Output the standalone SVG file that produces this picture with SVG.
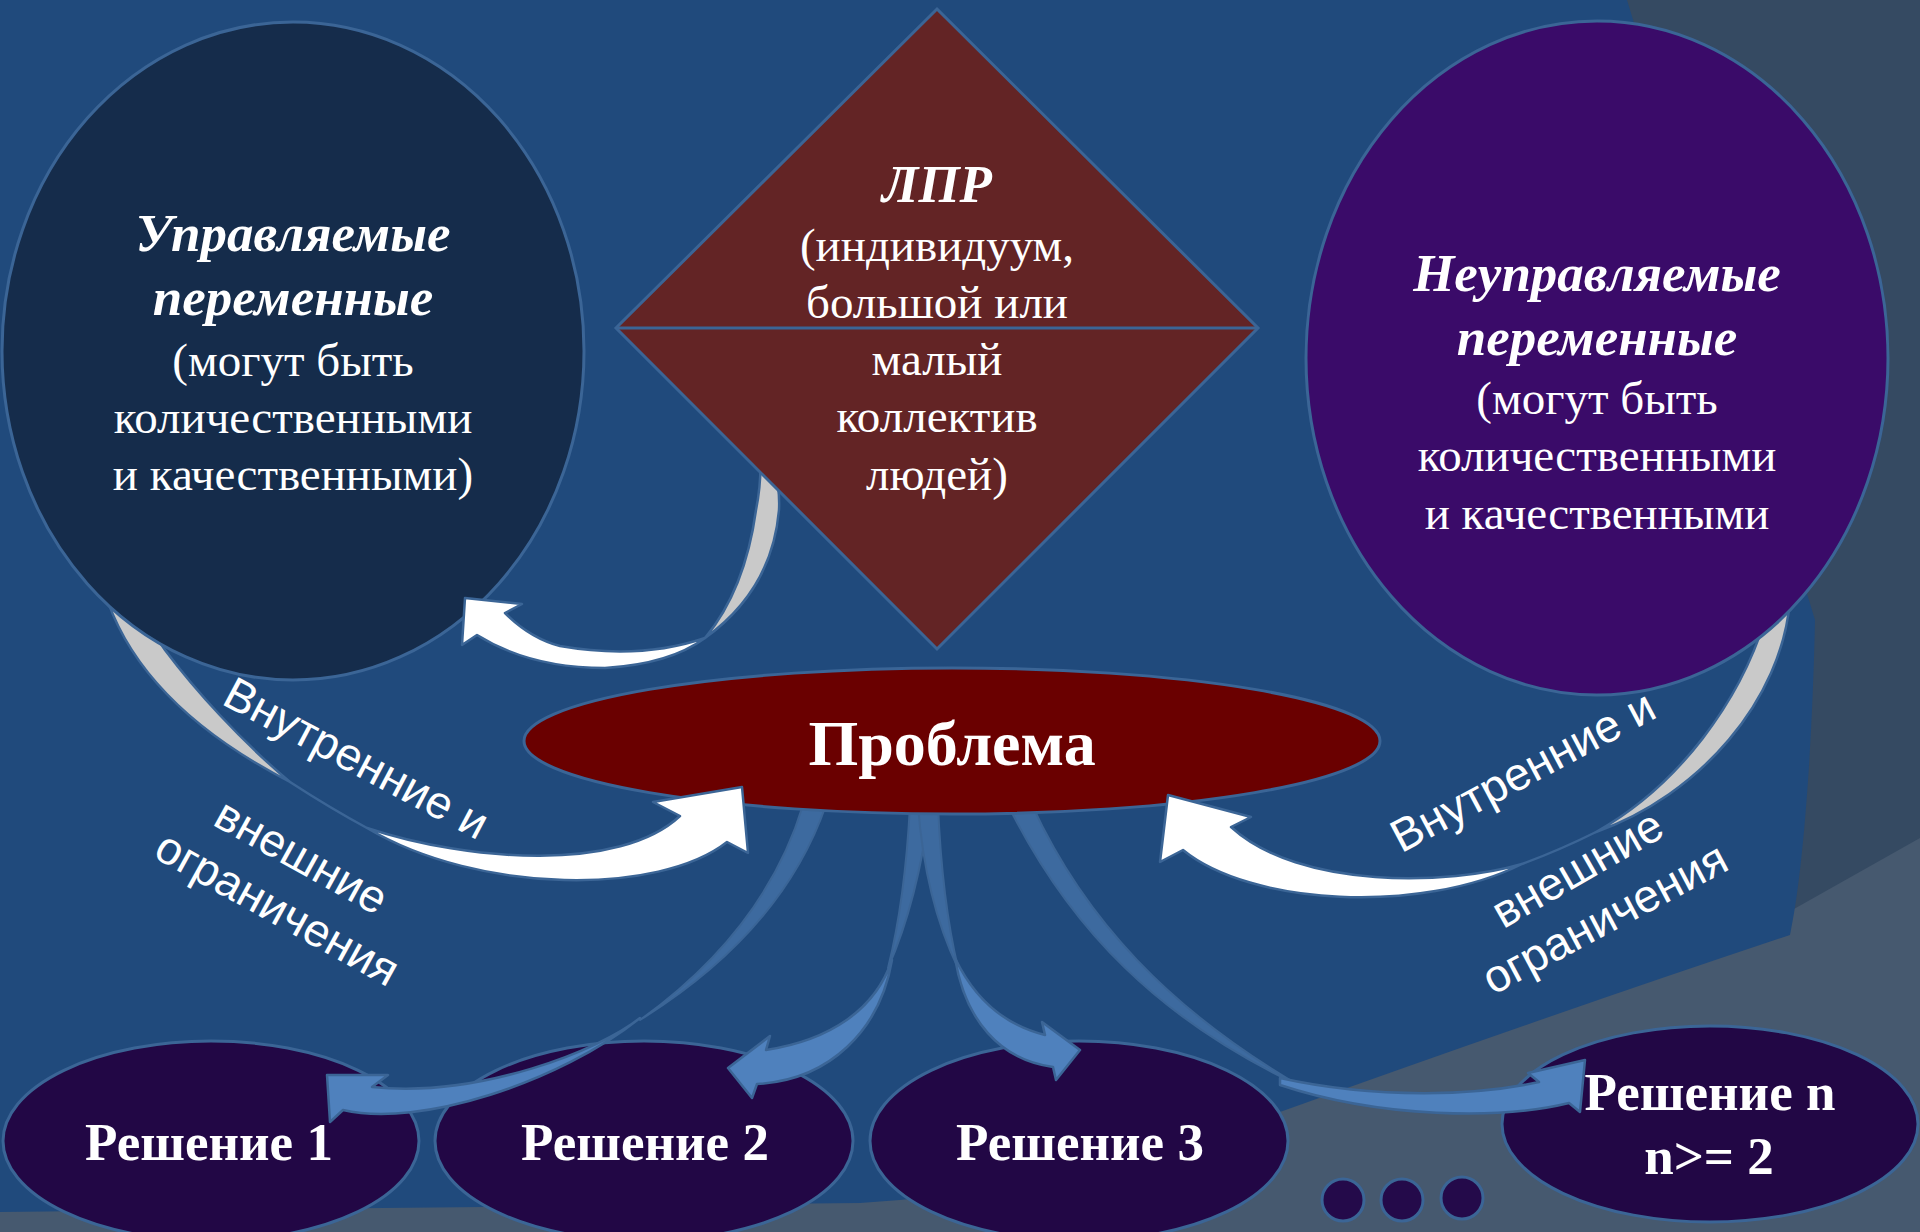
<svg xmlns="http://www.w3.org/2000/svg" width="1920" height="1232" viewBox="0 0 1920 1232">
<style>
.node{stroke:#3b6596;stroke-width:3}
.tb{font-family:"Liberation Serif","Times New Roman",serif;fill:#fff;text-anchor:middle}
.bi{font-weight:bold;font-style:italic;font-size:53px}
.rg{font-size:47px}
.sol{font-weight:bold;font-size:53px}
.lab{font-family:"Liberation Sans",Arial,sans-serif;font-size:46px;fill:#fff;text-anchor:middle}
.wh{fill:#fff;stroke:#3b6596;stroke-width:2.5;stroke-linejoin:round}
.gr{fill:#c9c9c9;stroke:#3b6596;stroke-width:2.5;stroke-linejoin:round}
.bf{fill:#4f81bd;stroke:#3b6596;stroke-width:2.5;stroke-linejoin:round}
.bb{fill:#3d6a9f;stroke:#3b6596;stroke-width:2;stroke-linejoin:round}
.ol{fill:none;stroke:#3b6596;stroke-width:2.5}
</style>
<g id="background">
<rect x="0" y="0" width="1920" height="1232" fill="#46596f"/>
<path d="M1500,0 H1920 V838 L1700,962 L1500,962 Z" fill="#354a62"/>
<path d="M0,0 H1627 L1815,620 C1812,760 1802,880 1790,935 Q1550,1015 1280,1112 Q1080,1190 860,1203 L0,1212 Z" fill="#204a7c"/>
</g>
<g id="connectors-back">
<path class="gr" d="M104,590 C122,650 170,720 290,782 C240,740 195,690 165,650 C150,630 140,610 135,590 Z"/>
<path class="ol" d="M290,782 Q330,808 367,828"/>
<path class="gr" d="M1790,600 C1782,700 1700,795 1596,832 C1680,785 1740,700 1765,620 Z"/>
<path class="ol" d="M1596,832 Q1560,850 1522,864"/>
<path class="gr" d="M705,638 Q772,590 779,510 Q781,470 760,450 Q762,480 756,510 Q745,590 705,638 Z"/>
<path class="bb" d="M803,805 Q765,930 640,1020 Q782,932 826,805 Z"/>
<path class="bb" d="M910,805 Q905,900 888,968 Q918,900 930,805 Z"/>
<path class="bb" d="M918,805 Q925,900 958,968 Q942,900 938,805 Z"/>
<path class="bb" d="M1008,805 C1070,930 1160,1020 1300,1086 C1170,1010 1085,920 1032,805 Z"/>
</g>
<g id="node-controlled">
<ellipse class="node" cx="293" cy="351" rx="291" ry="329" fill="#152c4b"/>
<text class="tb bi" x="293" y="251">Управляемые</text>
<text class="tb bi" x="293" y="315">переменные</text>
<text class="tb rg" x="293" y="376">(могут быть</text>
<text class="tb rg" x="293" y="433">количественными</text>
<text class="tb rg" x="293" y="490">и качественными)</text>
</g>
<g id="node-uncontrolled">
<ellipse class="node" cx="1597" cy="358" rx="291" ry="337" fill="#3a0b69"/>
<text class="tb bi" x="1597" y="291">Неуправляемые</text>
<text class="tb bi" x="1597" y="355">переменные</text>
<text class="tb rg" x="1597" y="414">(могут быть</text>
<text class="tb rg" x="1597" y="471">количественными</text>
<text class="tb rg" x="1597" y="529">и качественными</text>
</g>
<g id="node-lpr">
<polygon class="node" points="937,9 1258,328 937,649 616,328" fill="#632425"/>
<line class="node" x1="616" y1="328" x2="1258" y2="328"/>
<text class="tb bi" x="937" y="202">ЛПР</text>
<text class="tb rg" x="937" y="261">(индивидуум,</text>
<text class="tb rg" x="937" y="318">большой или</text>
<text class="tb rg" x="937" y="375">малый</text>
<text class="tb rg" x="937" y="432">коллектив</text>
<text class="tb rg" x="937" y="490">людей)</text>
</g>
<g id="node-problem">
<ellipse class="node" cx="952" cy="741" rx="428" ry="73" fill="#6a0000"/>
<text class="tb" x="952" y="765" font-weight="bold" font-size="64">Проблема</text>
</g>
<g id="node-solution1">
<ellipse class="node" cx="211" cy="1141" rx="208" ry="100" fill="#220745"/>
<text class="tb sol" x="209" y="1160">Решение 1</text>
</g>
<g id="node-solution2">
<ellipse class="node" cx="644" cy="1141" rx="209" ry="100" fill="#220745"/>
<text class="tb sol" x="645" y="1160">Решение 2</text>
</g>
<g id="node-solution3">
<ellipse class="node" cx="1079" cy="1141" rx="209" ry="100" fill="#220745"/>
<text class="tb sol" x="1080" y="1160">Решение 3</text>
</g>
<g id="node-solutionn">
<ellipse class="node" cx="1710" cy="1124" rx="208" ry="98" fill="#220745"/>
<text class="tb sol" x="1710" y="1110">Решение n</text>
<text class="tb sol" x="1709" y="1174">n&gt;= 2</text>
</g>
<g id="node-dots">
<circle class="node" cx="1343" cy="1200" r="21" fill="#240a4a"/>
<circle class="node" cx="1402" cy="1200" r="21" fill="#240a4a"/>
<circle class="node" cx="1462" cy="1198" r="21" fill="#240a4a"/>
</g>
<g id="connectors">
<path class="wh" d="M705,638 Q640,660 560,646 Q530,638 505,613 L522,604 L465,598 L462,645 L477,635 Q530,668 605,668 Q670,664 705,638 Z"/>
<path class="wh" d="M367,828 C470,862 620,872 680,816 L653,802 L742,787 L748,853 L727,842 C660,895 480,895 367,828 Z"/>
<path class="wh" d="M1522,864 C1450,885 1300,890 1231,827 L1251,817 L1168,795 L1160,862 L1183,850 C1250,905 1420,915 1522,864 Z"/>
<path class="bf" d="M640,1018 C600,1050 480,1098 372,1087 L388,1075 L327,1075 L330,1122 L343,1110 C420,1128 560,1082 640,1018 Z"/>
<path class="bf" d="M892,960 C875,1010 830,1040 766,1050 L770,1036 L728,1068 L752,1098 L757,1084 C830,1080 880,1030 892,960 Z"/>
<path class="bf" d="M955,958 C975,1000 1005,1025 1045,1035 L1042,1022 L1080,1050 L1056,1080 L1053,1067 C1000,1060 965,1020 955,958 Z"/>
<path class="bf" d="M1280,1078 C1380,1100 1480,1095 1539,1082 L1528,1073 L1585,1060 L1580,1112 L1569,1103 C1500,1120 1380,1118 1280,1085 Z"/>
</g>
<g id="labels">
<text class="lab" transform="translate(349,772) rotate(28)">Внутренние и</text>
<text class="lab" transform="translate(294,870) rotate(29)">внешние</text>
<text class="lab" transform="translate(270,922) rotate(29)">ограничения</text>
<text class="lab" transform="translate(1530,785) rotate(-28)">Внутренние и</text>
<text class="lab" transform="translate(1585,882) rotate(-30)">внешние</text>
<text class="lab" transform="translate(1612,932) rotate(-28)">ограничения</text>
</g>
</svg>
